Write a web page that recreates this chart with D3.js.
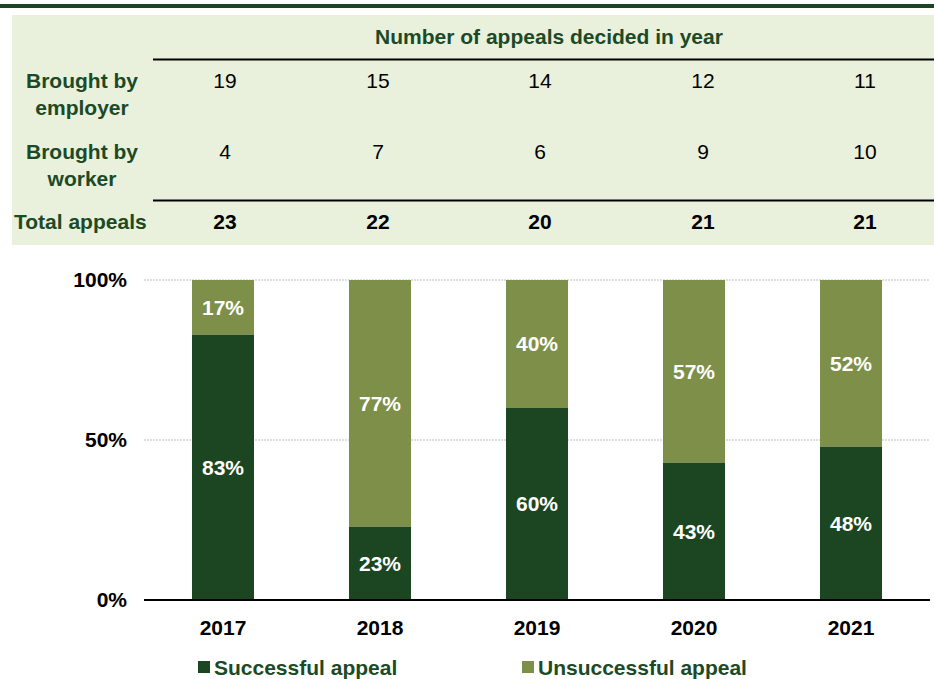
<!DOCTYPE html>
<html><head><meta charset="utf-8">
<script src="https://cdn.jsdelivr.net/npm/d3@7"></script>
<style>
html,body{margin:0;padding:0;background:#fff;}
svg{display:block;font-family:"Liberation Sans",Arial,sans-serif;}
</style></head>
<body>
<svg id="chart" width="934" height="679"></svg>
<script>
const years = ["2017","2018","2019","2020","2021"];
const byEmployer = [19,15,14,12,11];
const byWorker = [4,7,6,9,10];
const totals = [23,22,20,21,21];
const successful = [83,23,60,43,48];
const unsuccessful = [17,77,40,57,52];
const yTicks = [0,50,100];
const seriesNames = ["Successful appeal","Unsuccessful appeal"];

const darkGreen = "#1b4621";
const olive = "#7d8f48";
const textGreen = "#1c4a26";
const tableBg = "#e9f0dc";
const FS = 21;

const svg = d3.select("#chart");

// top rule
svg.append("rect").attr("x",0).attr("y",4).attr("width",934).attr("height",4).attr("fill",darkGreen);
// table background
svg.append("rect").attr("x",12).attr("y",15).attr("width",922).attr("height",230).attr("fill",tableBg);

// header
svg.append("text").attr("x",549).attr("y",44).attr("text-anchor","middle")
  .attr("font-size",FS).attr("font-weight","bold").attr("fill",textGreen)
  .text("Number of appeals decided in year");
// rules
svg.append("line").attr("x1",153).attr("x2",934).attr("y1",59.5).attr("y2",59.5).attr("stroke","#000").attr("stroke-width",2);
svg.append("line").attr("x1",153).attr("x2",934).attr("y1",200.5).attr("y2",200.5).attr("stroke","#000").attr("stroke-width",2);

const colX = d3.scaleOrdinal(years, [225,378,540,703,865]);

function rowLabel(lines, y0){
  const t = svg.append("text").attr("text-anchor","middle").attr("font-size",FS)
    .attr("font-weight","bold").attr("fill",textGreen);
  lines.forEach((l,i)=>t.append("tspan").attr("x",82).attr("y",y0+i*27).text(l));
}
rowLabel(["Brought by","employer"], 88);
rowLabel(["Brought by","worker"], 159);
svg.append("text").attr("x",14).attr("y",229).attr("font-size",FS).attr("font-weight","bold")
  .attr("fill",textGreen).text("Total appeals");

function rowValues(vals, y, bold){
  svg.append("g").selectAll("text").data(vals).join("text")
    .attr("x",(d,i)=>colX(years[i])).attr("y",y).attr("text-anchor","middle")
    .attr("font-size",FS).attr("font-weight",bold?"bold":"normal").attr("fill","#000")
    .text(d=>d);
}
rowValues(byEmployer, 88, false);
rowValues(byWorker, 159, false);
rowValues(totals, 229, true);

// chart
const x = d3.scaleBand().domain(years).range([144.5,929.5]).paddingInner(0.605).paddingOuter(0.3025);
const y = d3.scaleLinear().domain([0,100]).range([600,280]);

// gridlines
svg.append("g").selectAll("line").data(yTicks.filter(d=>d>0)).join("line")
  .attr("x1",144).attr("x2",930).attr("y1",d=>y(d)).attr("y2",d=>y(d))
  .attr("stroke","#bfbfbf").attr("stroke-width",1).attr("stroke-dasharray","2,1");

const stacked = years.map((yr,i)=>({yr, s:successful[i], u:unsuccessful[i]}));
const g = svg.append("g");
g.selectAll("rect.s").data(stacked).join("rect").attr("class","s")
  .attr("x",d=>x(d.yr)).attr("width",x.bandwidth())
  .attr("y",d=>y(d.s)).attr("height",d=>y(0)-y(d.s)).attr("fill",darkGreen);
g.selectAll("rect.u").data(stacked).join("rect").attr("class","u")
  .attr("x",d=>x(d.yr)).attr("width",x.bandwidth())
  .attr("y",d=>y(d.s+d.u)).attr("height",d=>y(d.s)-y(d.s+d.u)).attr("fill",olive);

// data labels
g.selectAll("text.s").data(stacked).join("text").attr("class","s")
  .attr("x",d=>x(d.yr)+x.bandwidth()/2).attr("y",d=>y(d.s/2)).attr("dy","0.35em")
  .attr("text-anchor","middle").attr("font-size",FS).attr("font-weight","bold").attr("fill","#fff")
  .text(d=>d.s+"%");
g.selectAll("text.u").data(stacked).join("text").attr("class","u")
  .attr("x",d=>x(d.yr)+x.bandwidth()/2).attr("y",d=>y(d.s+d.u/2)).attr("dy","0.35em")
  .attr("text-anchor","middle").attr("font-size",FS).attr("font-weight","bold").attr("fill","#fff")
  .text(d=>d.u+"%");

// axis line
svg.append("line").attr("x1",144).attr("x2",930).attr("y1",y(0)).attr("y2",y(0)).attr("stroke","#000").attr("stroke-width",2);

// y labels
svg.append("g").selectAll("text").data(yTicks).join("text")
  .attr("x",127).attr("y",d=>y(d)).attr("dy","0.35em").attr("text-anchor","end")
  .attr("font-size",FS).attr("font-weight","bold").attr("fill","#000").text(d=>d+"%");

// x labels
svg.append("g").selectAll("text").data(years).join("text")
  .attr("x",d=>x(d)+x.bandwidth()/2).attr("y",635).attr("text-anchor","middle")
  .attr("font-size",FS).attr("font-weight","bold").attr("fill","#000").text(d=>d);

// legend
const legX = [198, 522];
const legColors = [darkGreen, olive];
const leg = svg.append("g").selectAll("g").data(seriesNames).join("g")
  .attr("transform",(d,i)=>`translate(${legX[i]},661)`);
leg.append("rect").attr("x",0).attr("y",0).attr("width",12).attr("height",12).attr("fill",(d,i)=>legColors[i]);
leg.append("text").attr("x",16).attr("y",14).attr("font-size",FS).attr("font-weight","bold")
  .attr("fill",textGreen).text(d=>d);
</script>
</body></html>
